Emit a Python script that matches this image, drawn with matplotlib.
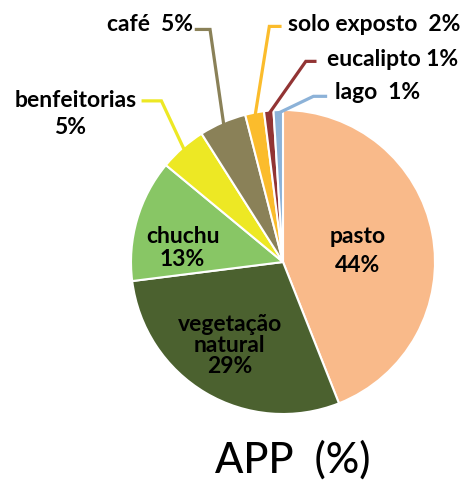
import matplotlib
matplotlib.use("Agg")
import matplotlib.pyplot as plt
import numpy as np

plt.rcParams['font.family'] = ['Lato', 'DejaVu Sans']

# dados
categorias = ['pasto', 'vegetação\nnatural', 'chuchu', 'benfeitorias', 'café',
              'solo exposto', 'eucalipto', 'lago']
valores = [44, 29, 13, 5, 5, 2, 1, 1]
cores = ['#F9BA8A', '#4B612F', '#88C665', '#EDE824', '#8A8158',
         '#FBBC2C', '#923434', '#8CB2D8']

# rótulos internos (pasto, vegetação, chuchu)
rotulos_int = ['pasto\n44%', 'vegetação\nnatural\n29%', 'chuchu\n13%']
pos_int = [(0.49, 0.08), (-0.35, -0.54), (-0.66, 0.10)]
espaco_int = [1.45, 1.0, 1.1]

# rótulos externos: ponto de dobra e fim da linha de chamada
rotulos_ext = ['benfeitorias\n5%', 'café  5%', 'solo exposto  2%', 'eucalipto 1%', 'lago  1%']
dobra = [(-0.80, 1.06), (-0.48, 1.53), (-0.09, 1.55), (0.15, 1.32), (0.20, 1.09)]
fim = [(-0.92, 1.06), (-0.57, 1.53), (-0.02, 1.55), (0.21, 1.32), (0.28, 1.09)]

W, H = 469, 481
fig = plt.figure(figsize=(W / 100, H / 100), dpi=100)
cx, cy, r = 283, 263, 152
ax = fig.add_axes([(cx - r) / W, (H - cy - r) / H, 2 * r / W, 2 * r / H])
ax.axis('off')

wedges, _ = ax.pie(valores, colors=cores, startangle=90, counterclock=False,
                   radius=1, wedgeprops=dict(edgecolor='white', linewidth=1.5))
ax.set_xlim(-1, 1)
ax.set_ylim(-1, 1)

fs = 16.5
for txt, (x, y), ls in zip(rotulos_int, pos_int, espaco_int):
    ax.text(x, y, txt, ha='center', va='center', fontsize=fs,
            fontweight='bold', linespacing=ls)

# linhas de chamada
for i, w in enumerate(wedges[3:]):
    ang = np.deg2rad((w.theta1 + w.theta2) / 2)
    x0, y0 = 0.98 * np.cos(ang), 0.98 * np.sin(ang)
    xb, yb = dobra[i]
    xf, yf = fim[i]
    ax.plot([x0, xb, xf], [y0, yb, yf], color=w.get_facecolor(), lw=2.3,
            clip_on=False, solid_joinstyle='miter')

kw = dict(fontsize=fs, fontweight='bold', clip_on=False)
ax.text(-0.96, 1.07, 'benfeitorias', ha='right', va='center', **kw)
ax.text(-1.40, 0.89, '5%', ha='center', va='center', **kw)
ax.text(-0.59, 1.57, rotulos_ext[1], ha='right', va='center', **kw)
ax.text(0.03, 1.57, rotulos_ext[2], ha='left', va='center', **kw)
ax.text(0.29, 1.34, rotulos_ext[3], ha='left', va='center', **kw)
ax.text(0.34, 1.12, rotulos_ext[4], ha='left', va='center', **kw)

fig.text(293 / W, 1 - 460 / H, 'APP  (%)', ha='center', va='center',
         fontsize=30, fontweight='medium')

fig.savefig('out.png', dpi=100, facecolor='white')
